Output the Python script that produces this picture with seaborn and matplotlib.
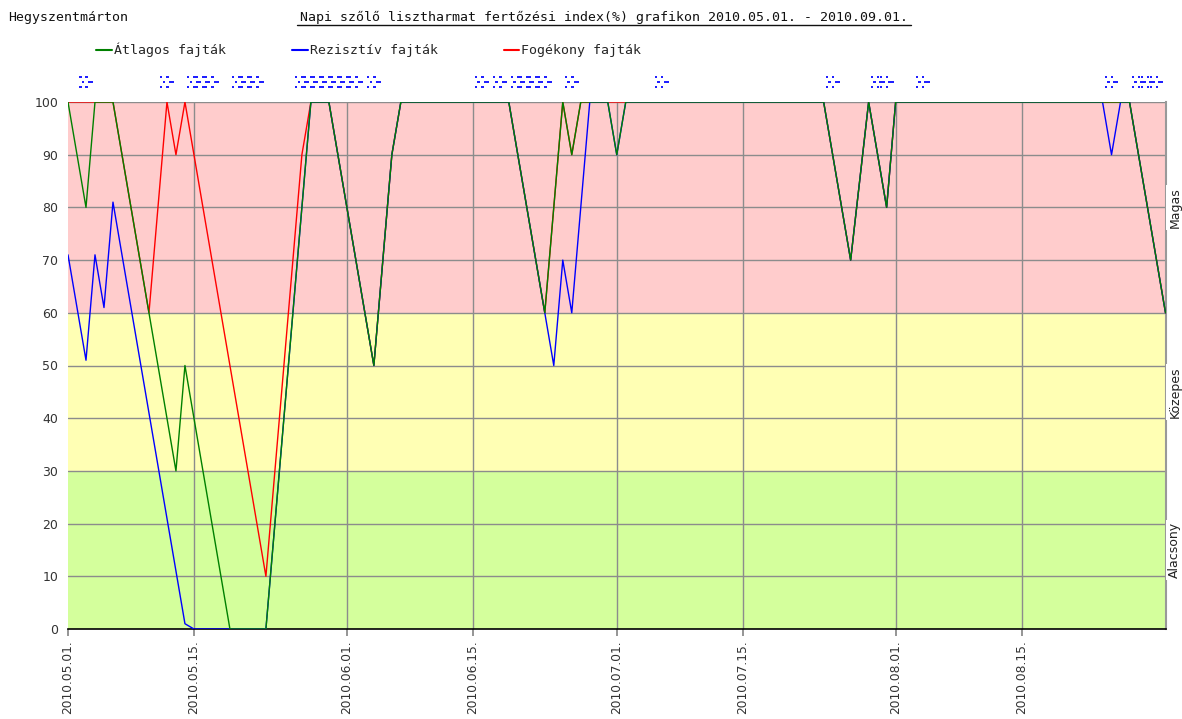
import matplotlib
matplotlib.use("Agg")
import matplotlib.pyplot as plt
from matplotlib.lines import Line2D
from matplotlib.path import Path
import numpy as np
import pandas as pd
import seaborn as sns

# ---------------- data (daily values, day 0 = 2010.05.01.) ----------------
atlagos = [100, 90, 80, 100, 100, 100, 90, 80, 70, 60,
           50, 40, 30, 50, 40, 30, 20, 10, 0, 0,
           0, 0, 0, 20, 40, 60, 80, 100, 100, 100,
           90, 80, 70, 60, 50, 70, 90, 100, 100, 100,
           100, 100, 100, 100, 100, 100, 100, 100, 100, 100,
           90, 80, 70, 60, 80, 100, 90, 100, 100, 100,
           100, 90, 100, 100, 100, 100, 100, 100, 100, 100,
           100, 100, 100, 100, 100, 100, 100, 100, 100, 100,
           100, 100, 100, 100, 100, 90, 80, 70, 85, 100,
           90, 80, 100, 100, 100, 100, 100, 100, 100, 100,
           100, 100, 100, 100, 100, 100, 100, 100, 100, 100,
           100, 100, 100, 100, 100, 100, 100, 100, 100, 90,
           80, 70, 60]

rezisztiv = [71, 61, 51, 71, 61, 81, 71, 61, 51, 41,
             31, 21, 11, 1, 0, 0, 0, 0, 0, 0,
             0, 0, 0, 20, 40, 60, 80, 100, 100, 100,
             90, 80, 70, 60, 50, 70, 90, 100, 100, 100,
             100, 100, 100, 100, 100, 100, 100, 100, 100, 100,
             90, 80, 70, 60, 50, 70, 60, 80, 100, 100,
             100, 90, 100, 100, 100, 100, 100, 100, 100, 100,
             100, 100, 100, 100, 100, 100, 100, 100, 100, 100,
             100, 100, 100, 100, 100, 90, 80, 70, 85, 100,
             90, 80, 100, 100, 100, 100, 100, 100, 100, 100,
             100, 100, 100, 100, 100, 100, 100, 100, 100, 100,
             100, 100, 100, 100, 100, 100, 90, 100, 100, 90,
             80, 70, 60]

fogekony = [100, 100, 100, 100, 100, 100, 90, 80, 70, 60,
            80, 100, 90, 100, 90, 80, 70, 60, 50, 40,
            30, 20, 10, 30, 50, 70, 90, 100, 100, 100,
            90, 80, 70, 60, 50, 70, 90, 100, 100, 100,
            100, 100, 100, 100, 100, 100, 100, 100, 100, 100,
            90, 80, 70, 60, 80, 100, 90, 100, 100, 100,
            100, 100, 100, 100, 100, 100, 100, 100, 100, 100,
            100, 100, 100, 100, 100, 100, 100, 100, 100, 100,
            100, 100, 100, 100, 100, 90, 80, 70, 85, 100,
            90, 80, 100, 100, 100, 100, 100, 100, 100, 100,
            100, 100, 100, 100, 100, 100, 100, 100, 100, 100,
            100, 100, 100, 100, 100, 100, 100, 100, 100, 90,
            80, 70, 60]

rain_days = [2, 11, 14, 15, 16, 19, 20, 21, 26, 27, 28, 29, 30, 31, 32, 34,
             46, 48, 50, 51, 52, 53, 56, 66, 85, 90, 91, 95, 116, 119, 120, 121]

tick_days = [0, 14, 31, 45, 61, 75, 92, 106]
tick_labels = ["2010.05.01.", "2010.05.15.", "2010.06.01.", "2010.06.15.",
               "2010.07.01.", "2010.07.15.", "2010.08.01.", "2010.08.15."]

series_names = ["Átlagos fajták", "Rezisztív fajták", "Fogékony fajták"]
series_colors = ["#008000", "#0000ff", "#ff0000"]

band_edges = [0, 30, 60, 100]
band_names = ["Alacsony", "Közepes", "Magas"]
band_colors = ["#d4ff9c", "#ffffb4", "#ffcccc"]

location = "Hegyszentmárton"
title = "Napi szőlő lisztharmat fertőzési index(%) grafikon 2010.05.01. - 2010.09.01."

# ---------------- build frame ----------------
days = np.arange(len(atlagos))
df = pd.DataFrame({"nap": np.concatenate([days, days, days]),
                   "index": atlagos + rezisztiv + fogekony,
                   "fajta": [series_names[0]] * len(days) + [series_names[1]] * len(days)
                            + [series_names[2]] * len(days)})

sns.set_theme(style="white")
mono = "DejaVu Sans Mono"
plt.rcParams["font.family"] = ["DejaVu Sans Mono", "DejaVu Sans"]

fig = plt.figure(figsize=(11.82, 7.19), dpi=100)
W, H = 1182, 719
ax = fig.add_axes([68 / W, 1 - 629 / H, (1165.5 - 68) / W, (629 - 102) / H])

# bands
for i, name in enumerate(band_names):
    ax.axhspan(band_edges[i], band_edges[i + 1], color=band_colors[i], zorder=0, lw=0)

# grid
for yv in range(10, 101, 10):
    ax.axhline(yv, color="#8c8c8c", lw=1.0, zorder=1)
for xv in tick_days[1:]:
    ax.axvline(xv, color="#8c8c8c", lw=1.0, zorder=1)

# lines: red below, blue, green on top
for idx in [2, 1, 0]:
    sub = df[df["fajta"] == series_names[idx]]
    sns.lineplot(data=sub, x="nap", y="index", color=series_colors[idx], lw=1.0,
                 ax=ax, zorder=3 + (2 - idx), legend=False)

ax.set_xlim(0, len(days) - 1)
ax.set_ylim(0, 100)
ax.set_yticks(range(0, 101, 10))
ax.set_yticklabels([str(v) for v in range(0, 101, 10)], fontsize=9, color="#333333",
                   family="DejaVu Sans")
ax.set_xticks(tick_days)
ax.set_xticklabels(tick_labels, rotation=90, fontsize=8.8, color="#333333",
                   family="DejaVu Sans", va="top")
ax.tick_params(axis="y", length=0, pad=7)
ax.tick_params(axis="x", length=5, color="#888888", pad=3, bottom=True)

for s in ["top", "left"]:
    ax.spines[s].set_visible(False)
ax.spines["right"].set_color("#999999")
ax.spines["right"].set_linewidth(1.5)
ax.spines["bottom"].set_color("#000000")
ax.spines["bottom"].set_linewidth(1.2)

# rain markers (dotted glyph)
dots = [(0, 10), (6, 10), (2.5, 5), (8.5, 5), (11, 5), (0, 0), (6, 0)]
verts, codes = [], []
d = 1.2
for (cx, cy) in dots:
    cx -= 5.5
    cy -= 5
    verts += [(cx - d, cy - d), (cx + d, cy - d), (cx + d, cy + d), (cx - d, cy + d), (cx - d, cy - d)]
    codes += [Path.MOVETO, Path.LINETO, Path.LINETO, Path.LINETO, Path.CLOSEPOLY]
rain_marker = Path(verts, codes)
rain_df = pd.DataFrame({"nap": rain_days, "y": [103.8] * len(rain_days)})
sns.scatterplot(data=rain_df, x="nap", y="y", marker=rain_marker, s=100, color="#2020ff",
                edgecolor="none", ax=ax, clip_on=False, zorder=5, legend=False)
ax.set_xlabel("")
ax.set_ylabel("")

# band labels on the right
for i, name in enumerate(band_names):
    ymid = (band_edges[i] + band_edges[i + 1]) / 2
    ax.text(1.0085, ymid, name, transform=ax.get_yaxis_transform(), rotation=90,
            ha="center", va="center", fontsize=9, family="DejaVu Sans", color="#222222",
            bbox=dict(facecolor="white", edgecolor="none", pad=1.5), zorder=6, clip_on=False)

# header texts
fig.text(8 / W, 1 - 18 / H, location, ha="left", va="center", fontsize=9.5, family=mono,
         color="#111111")
fig.text(604 / W, 1 - 17 / H, title, ha="center", va="center", fontsize=9.5, family=mono,
         color="#111111")
fig.add_artist(Line2D([297 / W, 911 / W], [1 - 25 / H, 1 - 25 / H], color="#111111", lw=1.0,
                      transform=fig.transFigure))

# legend
handles = [Line2D([0], [0], color=c, lw=1.5) for c in series_colors]
fig.legend(handles, series_names, loc="center left", bbox_to_anchor=(96 / W, 1 - 50 / H),
           ncol=3, frameon=False, handlelength=1.2, handletextpad=0.15, columnspacing=5.0,
           borderpad=0, borderaxespad=0, prop={"family": mono, "size": 9.5})

fig.savefig("out.png", dpi=100, facecolor="white")
